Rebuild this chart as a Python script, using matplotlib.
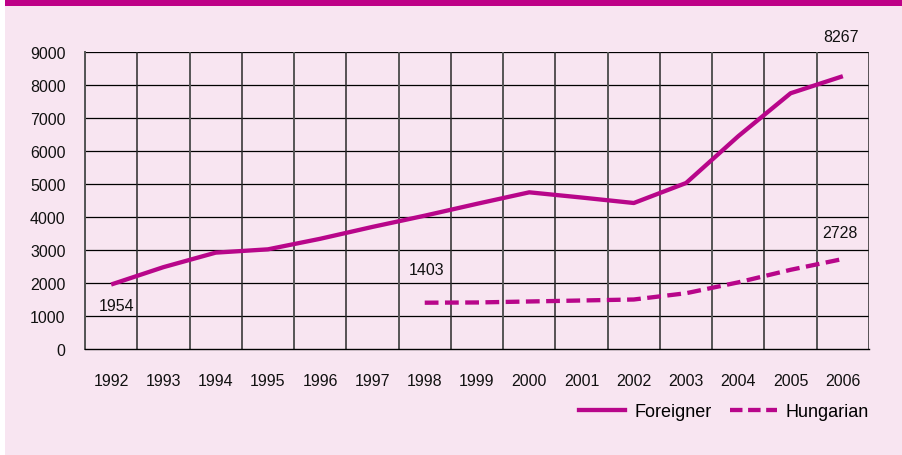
import matplotlib
matplotlib.use("Agg")
import matplotlib.pyplot as plt
from matplotlib.patches import Rectangle
from matplotlib.lines import Line2D

plt.rcParams['font.family'] = ['Liberation Sans', 'DejaVu Sans']

years = ['1992', '1993', '1994', '1995', '1996', '1997', '1998', '1999',
         '2000', '2001', '2002', '2003', '2004', '2005', '2006']
foreigner = [1954, 2480, 2920, 3020, 3340, 3700, 4040, 4400,
             4748, 4590, 4424, 5030, 6450, 7750, 8267]
hungarian_years = years[6:]
hungarian = [1403, 1410, 1440, 1470, 1500, 1690, 2020, 2400, 2728]
yticks = [0, 1000, 2000, 3000, 4000, 5000, 6000, 7000, 8000, 9000]

BG = '#F8E5F1'
MAG = '#BE0087'
LINE = '#B8068A'

fig = plt.figure(figsize=(9.03, 4.56), dpi=100)
fig.patch.set_facecolor('white')
# pink panel and magenta bar
fig.patches.append(Rectangle((5/903, 0), 1, 1, transform=fig.transFigure,
                             facecolor=BG, edgecolor='none', zorder=-10))
fig.patches.append(Rectangle((5/903, 1 - 7/456), 1, 7/456, transform=fig.transFigure,
                             facecolor=MAG, edgecolor='none', zorder=-9))

ax = fig.add_axes([85/903, 1 - 350/456, 784/903, 297/456])
ax.set_facecolor('none')

xf = list(range(len(years)))
xh = [years.index(y) for y in hungarian_years]

ax.set_xlim(-0.5, len(years) - 0.5)
ax.set_ylim(0, 9000)

# grid
for v in yticks[1:]:
    ax.axhline(v, color='black', lw=0.9, zorder=1)
for i in range(len(years) + 1):
    ax.axvline(i - 0.5, color='#2a2a2a' if i % 2 else '#555555', lw=1.1 if i % 2 else 1.4, zorder=1)

ax.plot(xf, foreigner, color=LINE, lw=3.1, solid_capstyle='butt', zorder=3)
ax.plot(xh, hungarian, color=LINE, lw=3.1, dashes=(3.2, 1.5), zorder=3)

for s in ['top', 'right']:
    ax.spines[s].set_visible(False)
ax.spines['left'].set_color('#555555')
ax.spines['left'].set_linewidth(1.4)
ax.spines['bottom'].set_color('black')
ax.spines['bottom'].set_linewidth(1.0)

ax.set_xticks(xf)
ax.set_xticklabels(years)
ax.set_yticks(yticks)
ax.set_yticklabels([str(v) for v in yticks])
ax.tick_params(axis='x', length=0, pad=17, labelsize=11.5, colors='#111111')
ax.tick_params(axis='y', length=0, pad=14, labelsize=11.5, colors='#111111')

def lab(x, y, dx, dy):
    ax.annotate(str(y), (x, y), xytext=(dx, dy), textcoords='offset pixels',
                ha='center', va='center', fontsize=11.5, color='#111111',
                annotation_clip=False)

lab(xf[0], foreigner[0], 5, -20.5)
lab(xf[-1], foreigner[-1], -2, 39.5)
lab(xh[0], hungarian[0], 2, 33)
lab(xh[-1], hungarian[-1], -3, 26)

handles = [Line2D([], [], color=LINE, lw=3.1),
           Line2D([], [], color=LINE, lw=3.1, dashes=(2.9, 1.3))]
fig.legend(handles, ['Foreigner', 'Hungarian'], loc='center',
           bbox_to_anchor=(724/903, 1 - 413/456), ncol=2, frameon=False,
           fontsize=13, handlelength=2.55, handletextpad=0.5, columnspacing=1.05,
           borderpad=0, borderaxespad=0)

fig.savefig('out.png', dpi=100, facecolor=fig.get_facecolor())
